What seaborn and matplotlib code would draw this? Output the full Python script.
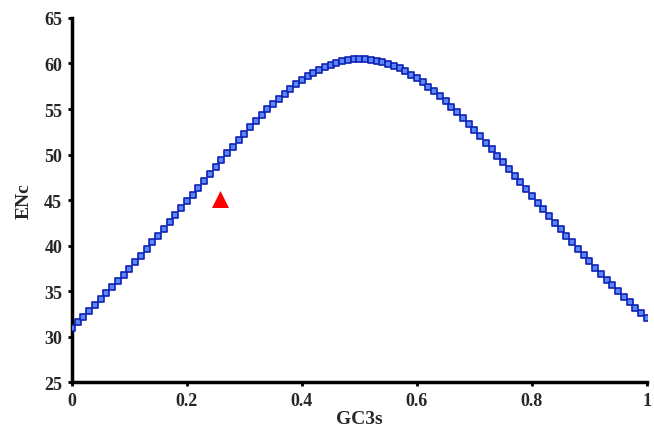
import pandas as pd
import matplotlib
matplotlib.use("Agg")
import matplotlib.pyplot as plt
import matplotlib.ticker as mticker
import seaborn as sns

# Expected ENc curve
GC3S = [
    0.00, 0.01, 0.02, 0.03, 0.04, 0.05, 0.06, 0.07, 0.08, 0.09,
    0.10, 0.11, 0.12, 0.13, 0.14, 0.15, 0.16, 0.17, 0.18, 0.19,
    0.20, 0.21, 0.22, 0.23, 0.24, 0.25, 0.26, 0.27, 0.28, 0.29,
    0.30, 0.31, 0.32, 0.33, 0.34, 0.35, 0.36, 0.37, 0.38, 0.39,
    0.40, 0.41, 0.42, 0.43, 0.44, 0.45, 0.46, 0.47, 0.48, 0.49,
    0.50, 0.51, 0.52, 0.53, 0.54, 0.55, 0.56, 0.57, 0.58, 0.59,
    0.60, 0.61, 0.62, 0.63, 0.64, 0.65, 0.66, 0.67, 0.68, 0.69,
    0.70, 0.71, 0.72, 0.73, 0.74, 0.75, 0.76, 0.77, 0.78, 0.79,
    0.80, 0.81, 0.82, 0.83, 0.84, 0.85, 0.86, 0.87, 0.88, 0.89,
    0.90, 0.91, 0.92, 0.93, 0.94, 0.95, 0.96, 0.97, 0.98, 0.99,
    1.00,
]
ENC_EXPECTED = [
    31.00, 31.60, 32.20, 32.82, 33.45, 34.09, 34.75, 35.41, 36.09, 36.77,
    37.47, 38.17, 38.88, 39.61, 40.34, 41.08, 41.82, 42.57, 43.33, 44.09,
    44.85, 45.61, 46.37, 47.14, 47.90, 48.65, 49.40, 50.14, 50.87, 51.59,
    52.30, 52.99, 53.67, 54.32, 54.95, 55.56, 56.14, 56.70, 57.22, 57.71,
    58.17, 58.59, 58.97, 59.32, 59.62, 59.88, 60.09, 60.26, 60.39, 60.47,
    60.50, 60.49, 60.43, 60.32, 60.17, 59.98, 59.74, 59.46, 59.13, 58.77,
    58.37, 57.93, 57.46, 56.96, 56.42, 55.86, 55.27, 54.66, 54.03, 53.37,
    52.70, 52.01, 51.31, 50.60, 49.88, 49.15, 48.42, 47.68, 46.93, 46.19,
    45.45, 44.71, 43.97, 43.23, 42.50, 41.78, 41.06, 40.35, 39.65, 38.95,
    38.27, 37.59, 36.93, 36.27, 35.63, 34.99, 34.37, 33.76, 33.16, 32.58,
    32.00,
]

# Observed gene
OBS_GC3S = [0.257]
OBS_ENC = [45.1]

curve = pd.DataFrame({"GC3s": GC3S, "ENc": ENC_EXPECTED})
obs = pd.DataFrame({"GC3s": OBS_GC3S, "ENc": OBS_ENC})

sns.set_style("white")
plt.rcParams["font.family"] = ["Liberation Serif", "DejaVu Serif"]

fig = plt.figure(figsize=(6.54, 4.31), dpi=100)
ax = fig.add_axes([0.110, 0.111, 0.879, 0.845])

sns.scatterplot(data=curve, x="GC3s", y="ENc", ax=ax, marker="s", s=14,
                color="#5a86ff", edgecolor="#0f22b0", linewidth=1.2, zorder=3)
sns.scatterplot(data=obs, x="GC3s", y="ENc", ax=ax, marker="^", s=150,
                color="#ff0000", edgecolor="#ff0000", linewidth=0, zorder=4)

ax.set_xlim(0, 1)
ax.set_ylim(25, 65)
ax.xaxis.set_major_locator(mticker.MultipleLocator(0.2))
ax.yaxis.set_major_locator(mticker.MultipleLocator(5))
ax.xaxis.set_major_formatter(mticker.FuncFormatter(lambda v, _: f"{v:g}"))

for side in ["top", "right"]:
    ax.spines[side].set_visible(False)
for side in ["left", "bottom"]:
    ax.spines[side].set_color("black")
    ax.spines[side].set_linewidth(2.5)

ax.tick_params(axis="both", direction="out", length=3, width=2, color="black",
               labelsize=13, pad=4, left=True, bottom=True)
for lab in ax.get_xticklabels() + ax.get_yticklabels():
    lab.set_fontweight("bold")

ax.set_xlabel("GC3s", fontsize=14, fontweight="bold", labelpad=1)
ax.set_ylabel("ENc", fontsize=14, fontweight="bold", labelpad=8)

fig.savefig("out.png", dpi=100)
